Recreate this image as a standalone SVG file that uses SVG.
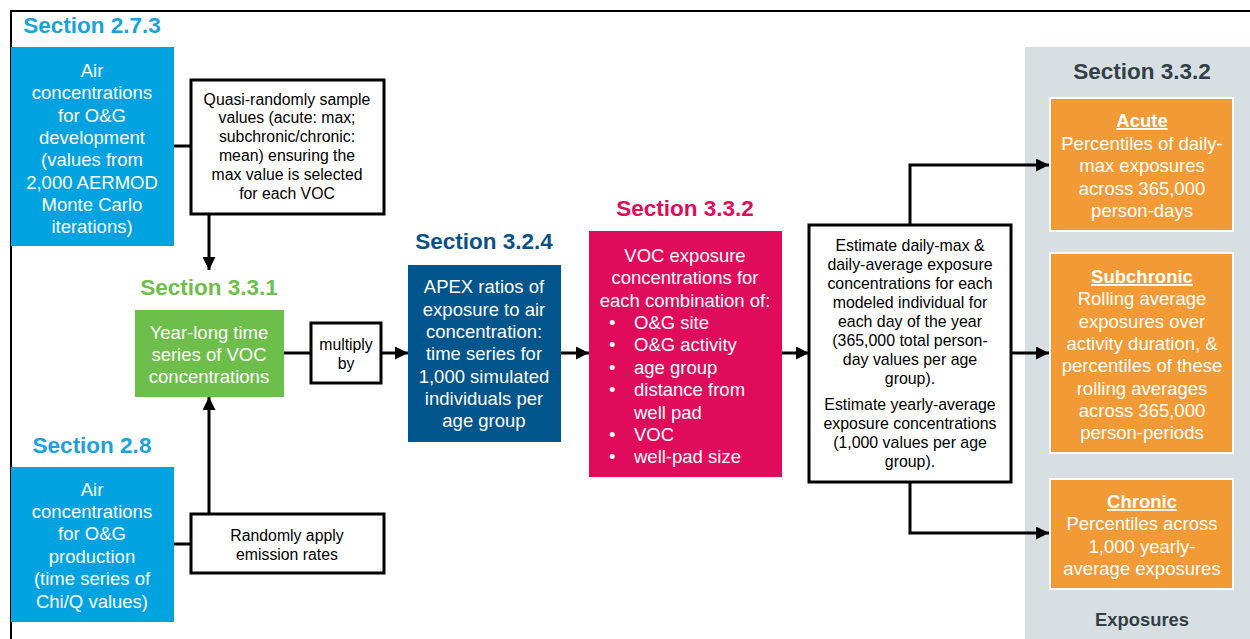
<svg xmlns="http://www.w3.org/2000/svg" width="1250" height="639" viewBox="0 0 1250 639">
<style>
text{font-family:"Liberation Sans",Arial,sans-serif;text-anchor:middle}
.t{font-size:22.5px;font-weight:bold}
.w{fill:#fff;font-size:18.5px}
.k{fill:#000;font-size:15.8px}
.bx{fill:#fff;stroke:#000;stroke-width:3}
.ln{fill:none;stroke:#000;stroke-width:3}
.or{fill:#F29A36;stroke:#fff;stroke-width:2}
.u{font-weight:bold;text-decoration:underline}
</style>
<defs>
<marker id="ah" viewBox="0 0 10 10" refX="10" refY="5" markerWidth="13" markerHeight="13" markerUnits="userSpaceOnUse" orient="auto">
<path d="M0,0 L10,5 L0,10 z" fill="#000"/>
</marker>
</defs>
<rect x="11" y="11" width="1250" height="640" fill="#fff" stroke="#000" stroke-width="2"/>
<rect id="panel" x="1025" y="47" width="226" height="593" fill="#D8DFE2"/>

<g id="connectors">
<line class="ln" x1="174" y1="146" x2="191" y2="146"/>
<line class="ln" x1="209" y1="214" x2="209" y2="270" marker-end="url(#ah)"/>
<line class="ln" x1="174" y1="544" x2="191" y2="544"/>
<line class="ln" x1="209" y1="514" x2="209" y2="397" marker-end="url(#ah)"/>
<line class="ln" x1="284" y1="353" x2="311" y2="353"/>
<line class="ln" x1="381" y1="353" x2="408" y2="353" marker-end="url(#ah)"/>
<line class="ln" x1="561" y1="353" x2="589" y2="353" marker-end="url(#ah)"/>
<line class="ln" x1="782" y1="353" x2="809" y2="353" marker-end="url(#ah)"/>
<polyline class="ln" points="910,225 910,165 1049,165" marker-end="url(#ah)"/>
<line class="ln" x1="1011" y1="353" x2="1049" y2="353" marker-end="url(#ah)"/>
<polyline class="ln" points="910,482 910,533 1049,533" marker-end="url(#ah)"/>
</g>

<g id="sec273"><text class="t" x="92" y="33" fill="#1BA1DC">Section 2.7.3</text></g>
<g id="airdev">
<rect x="11" y="47" width="163" height="199" fill="#00A3E0"/>
<text class="w" x="92" y="77"><tspan x="92">Air</tspan><tspan x="92" dy="22.3">concentrations</tspan><tspan x="92" dy="22.3">for O&amp;G</tspan><tspan x="92" dy="22.3">development</tspan><tspan x="92" dy="22.3">(values from</tspan><tspan x="92" dy="22.3">2,000 AERMOD</tspan><tspan x="92" dy="22.3">Monte Carlo</tspan><tspan x="92" dy="22.3">iterations)</tspan></text>
</g>
<g id="quasi">
<rect class="bx" x="191" y="80" width="193" height="134"/>
<text class="k" x="287" y="104.5"><tspan x="287">Quasi-randomly sample</tspan><tspan x="287" dy="18.8">values (acute: max;</tspan><tspan x="287" dy="18.8">subchronic/chronic:</tspan><tspan x="287" dy="18.8">mean) ensuring the</tspan><tspan x="287" dy="18.8">max value is selected</tspan><tspan x="287" dy="18.8">for each VOC</tspan></text>
</g>
<g id="sec331"><text class="t" x="209" y="295" fill="#6DBE4B">Section 3.3.1</text></g>
<g id="yearlong">
<rect x="135" y="310" width="149" height="87" fill="#6DBE4B"/>
<text class="w" x="209" y="338.5"><tspan x="209">Year-long time</tspan><tspan x="209" dy="22.3">series of VOC</tspan><tspan x="209" dy="22.3">concentrations</tspan></text>
</g>
<g id="multiply">
<rect class="bx" x="311" y="323" width="70" height="60"/>
<text class="k" x="346" y="350"><tspan x="346">multiply</tspan><tspan x="346" dy="19">by</tspan></text>
</g>
<g id="sec28"><text class="t" x="92" y="452.5" fill="#1BA1DC">Section 2.8</text></g>
<g id="airprod">
<rect x="11" y="467" width="163" height="155" fill="#00A3E0"/>
<text class="w" x="92" y="495.5"><tspan x="92">Air</tspan><tspan x="92" dy="22.4">concentrations</tspan><tspan x="92" dy="22.4">for O&amp;G</tspan><tspan x="92" dy="22.4">production</tspan><tspan x="92" dy="22.4">(time series of</tspan><tspan x="92" dy="22.4">Chi/Q values)</tspan></text>
</g>
<g id="random">
<rect class="bx" x="191" y="514" width="193" height="59"/>
<text class="k" x="287" y="541"><tspan x="287">Randomly apply</tspan><tspan x="287" dy="18.5">emission rates</tspan></text>
</g>
<g id="sec324"><text class="t" x="484" y="249" fill="#0B5185">Section 3.2.4</text></g>
<g id="apex">
<rect x="408" y="265" width="153" height="177" fill="#00558C"/>
<text class="w" x="484" y="293.3"><tspan x="484">APEX ratios of</tspan><tspan x="484" dy="22.3">exposure to air</tspan><tspan x="484" dy="22.3">concentration:</tspan><tspan x="484" dy="22.3">time series for</tspan><tspan x="484" dy="22.3">1,000 simulated</tspan><tspan x="484" dy="22.3">individuals per</tspan><tspan x="484" dy="22.3">age group</tspan></text>
</g>
<g id="sec332a"><text class="t" x="685" y="216" fill="#E00B5B">Section 3.3.2</text></g>
<g id="voc">
<rect x="589" y="231" width="193" height="246" fill="#E00B5B"/>
<text class="w" x="685" y="261.7"><tspan x="685">VOC exposure</tspan><tspan x="685" dy="22.4">concentrations for</tspan><tspan x="685" dy="22.4">each combination of:</tspan></text>
<text class="w" x="609" y="329" style="text-anchor:start"><tspan x="609">•</tspan><tspan x="634">O&amp;G site</tspan></text>
<text class="w" x="609" y="351.4" style="text-anchor:start"><tspan x="609">•</tspan><tspan x="634">O&amp;G activity</tspan></text>
<text class="w" x="609" y="373.8" style="text-anchor:start"><tspan x="609">•</tspan><tspan x="634">age group</tspan></text>
<text class="w" x="609" y="396.2" style="text-anchor:start"><tspan x="609">•</tspan><tspan x="634">distance from</tspan></text>
<text class="w" x="634" y="418.6" style="text-anchor:start">well pad</text>
<text class="w" x="609" y="441" style="text-anchor:start"><tspan x="609">•</tspan><tspan x="634">VOC</tspan></text>
<text class="w" x="609" y="463.4" style="text-anchor:start"><tspan x="609">•</tspan><tspan x="634">well-pad size</tspan></text>
</g>
<g id="estimate">
<rect class="bx" x="809" y="225" width="202" height="257"/>
<text class="k" x="910" y="250.6" style="font-size:15.9px"><tspan x="910">Estimate daily-max &amp;</tspan><tspan x="910" dy="19.1">daily-average exposure</tspan><tspan x="910" dy="19.1">concentrations for each</tspan><tspan x="910" dy="19.1">modeled individual for</tspan><tspan x="910" dy="19.1">each day of the year</tspan><tspan x="910" dy="19.1">(365,000 total person-</tspan><tspan x="910" dy="19.1">day values per age</tspan><tspan x="910" dy="19.1">group).</tspan><tspan x="910" dy="25.7">Estimate yearly-average</tspan><tspan x="910" dy="19">exposure concentrations</tspan><tspan x="910" dy="19">(1,000 values per age</tspan><tspan x="910" dy="19">group).</tspan></text>
</g>
<g id="sec332b"><text class="t" x="1142" y="79" fill="#333F48">Section 3.3.2</text></g>
<g id="acute">
<rect class="or" x="1050" y="98" width="183" height="133"/>
<text class="w" x="1142" y="127"><tspan x="1142" class="u">Acute</tspan><tspan x="1142" dy="23">Percentiles of daily-</tspan><tspan x="1142" dy="22.3">max exposures</tspan><tspan x="1142" dy="22.3">across 365,000</tspan><tspan x="1142" dy="22.3">person-days</tspan></text>
</g>
<g id="subchronic">
<rect class="or" x="1050" y="253" width="183" height="200"/>
<text class="w" x="1142" y="283"><tspan x="1142" class="u">Subchronic</tspan><tspan x="1142" dy="22.3">Rolling average</tspan><tspan x="1142" dy="22.3">exposures over</tspan><tspan x="1142" dy="22.3">activity duration, &amp;</tspan><tspan x="1142" dy="22.3">percentiles of these</tspan><tspan x="1142" dy="22.3">rolling averages</tspan><tspan x="1142" dy="22.3">across 365,000</tspan><tspan x="1142" dy="22.3">person-periods</tspan></text>
</g>
<g id="chronic">
<rect class="or" x="1050" y="479" width="183" height="110"/>
<text class="w" x="1142" y="508"><tspan x="1142" class="u">Chronic</tspan><tspan x="1142" dy="22.3">Percentiles across</tspan><tspan x="1142" dy="22.3">1,000 yearly-</tspan><tspan x="1142" dy="22.3">average exposures</tspan></text>
</g>
<g id="exposures"><text x="1142" y="626" fill="#333F48" style="font-size:18.4px;font-weight:bold">Exposures</text></g>
</svg>
